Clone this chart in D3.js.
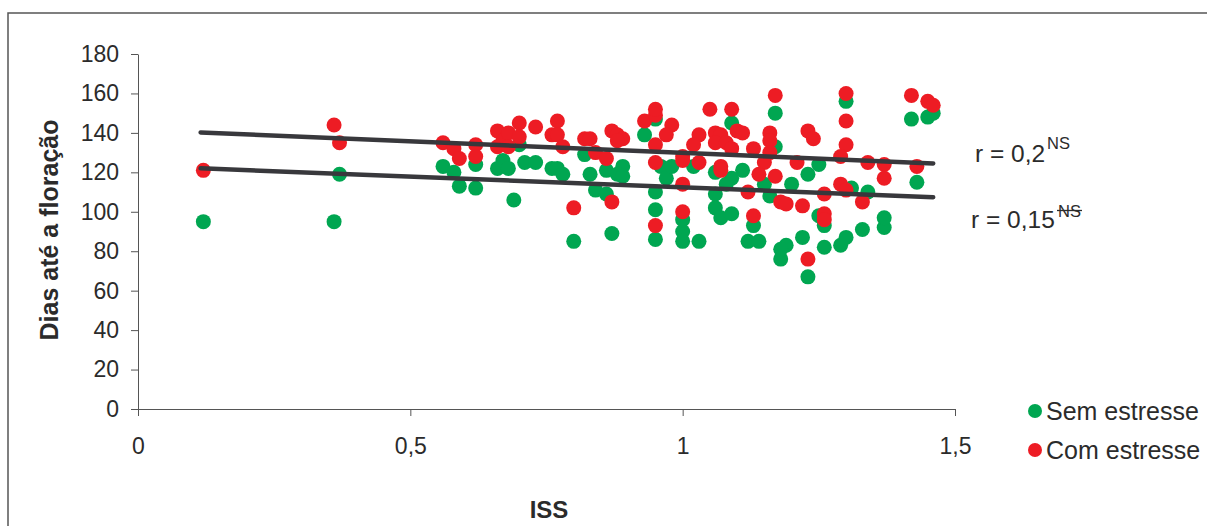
<!DOCTYPE html>
<html>
<head>
<meta charset="utf-8">
<script src="https://cdn.jsdelivr.net/npm/d3@7"></script>
<style>
	body { margin: 0; background: #fff; }
	text { font-family: "Liberation Sans", Arial, sans-serif; fill: #2b2b2b; }
</style>
</head>
<body>
<div id="chart"></div>
<script>
// ISS x dias até a floração
const semEstresse = [
	[0.12, 95], [0.36, 95], [0.37, 119],
	[0.56, 123], [0.58, 120], [0.59, 113], [0.62, 124], [0.62, 112], [0.66, 122], [0.67, 126], [0.68, 122],
	[0.70, 134], [0.71, 125], [0.73, 125], [0.69, 106],
	[0.76, 122], [0.77, 122], [0.78, 119], [0.82, 129], [0.83, 119], [0.84, 111], [0.86, 109], [0.86, 121],
	[0.89, 123], [0.88, 119], [0.89, 118], [0.80, 85], [0.87, 89],
	[0.93, 139], [0.95, 147], [0.96, 123], [0.97, 117], [0.98, 123], [0.95, 110], [0.95, 101], [0.95, 86],
	[1.00, 90], [1.00, 85], [1.03, 85],
	[1.09, 145], [1.17, 150], [1.17, 133], [1.06, 120], [1.11, 121], [1.09, 117], [1.08, 114], [1.15, 114],
	[1.16, 108], [1.06, 109], [1.06, 102], [1.07, 97], [1.09, 99], [1.13, 93], [1.12, 85], [1.14, 85],
	[1.00, 96], [1.02, 123], [1.20, 114], [1.23, 119], [1.25, 98],
	[1.19, 83], [1.18, 76], [1.22, 87], [1.26, 82], [1.29, 83], [1.30, 87], [1.33, 91], [1.37, 92], [1.37, 97],
	[1.23, 67], [1.30, 156], [1.42, 147], [1.45, 148], [1.46, 150], [1.43, 115], [1.31, 112], [1.34, 110],
	[1.26, 93], [1.25, 124], [1.18, 81]
];

const comEstresse = [
	[0.12, 121], [0.36, 144], [0.37, 135],
	[0.56, 135], [0.58, 132], [0.59, 127], [0.62, 134], [0.62, 128], [0.66, 141], [0.66, 133], [0.67, 136],
	[0.68, 140], [0.70, 145], [0.73, 143], [0.70, 138], [0.68, 133],
	[0.77, 146], [0.76, 139], [0.77, 139], [0.78, 133], [0.82, 137], [0.83, 137], [0.84, 130], [0.86, 127],
	[0.87, 141], [0.88, 139], [0.89, 137], [0.88, 136], [0.87, 105], [0.80, 102],
	[0.93, 146], [0.95, 149], [0.95, 152], [0.98, 144], [0.97, 139], [0.95, 134], [0.95, 125], [0.95, 93], [1.00, 128],
	[1.05, 152], [1.09, 152], [1.17, 159], [1.03, 139], [1.02, 134], [1.06, 140], [1.07, 139], [1.06, 135],
	[1.08, 135], [1.09, 132], [1.10, 141], [1.11, 140], [1.13, 132], [1.16, 140], [1.16, 136], [1.16, 130],
	[1.15, 125], [1.03, 125], [1.00, 126], [1.07, 123], [1.07, 121], [1.14, 119], [1.17, 118], [1.12, 110],
	[1.18, 105], [1.19, 104], [1.22, 103], [1.13, 98], [1.00, 114], [1.00, 100], [1.21, 125], [1.23, 141],
	[1.24, 137], [1.23, 76],
	[1.30, 160], [1.30, 146], [1.30, 134], [1.29, 128], [1.34, 125], [1.37, 124], [1.37, 117], [1.42, 159],
	[1.45, 156], [1.46, 154], [1.43, 123], [1.29, 114], [1.30, 111], [1.33, 105], [1.26, 109], [1.26, 99], [1.26, 96]
];

// linhas de tendência: [intercepto, inclinação]
const trendCom = [141.6, -11.7];
const trendSem = [123.3, -10.9];
const trendRange = [0.115, 1.46];

const xTicks = [0, 0.5, 1, 1.5];
const xTickLabels = ["0", "0,5", "1", "1,5"];
const yTicks = [0, 20, 40, 60, 80, 100, 120, 140, 160, 180];

const width = 1207, height = 526;
const verde = "#00a651", vermelho = "#ed1c24";

const svg = d3.select("#chart").append("svg")
	.attr("width", width)
	.attr("height", height);

// moldura
svg.append("rect")
	.attr("x", 8).attr("y", 13)
	.attr("width", 1210).attr("height", 530)
	.attr("fill", "none")
	.attr("stroke", "#555")
	.attr("stroke-width", 1.5);

let x = d3.scaleLinear().domain([0, 1.5]).range([138, 955]);
let y = d3.scaleLinear().domain([0, 180]).range([409, 54]);

let yAxis = d3.axisLeft(y).tickValues(yTicks).tickSize(7).tickPadding(12).tickSizeOuter(0);
let gy = svg.append("g")
	.attr("transform", "translate(138,0)")
	.call(yAxis);

let xAxis = d3.axisBottom(x).tickValues(xTicks).tickSize(7).tickPadding(22).tickSizeOuter(0)
	.tickFormat((d, i) => xTickLabels[i]);
let gx = svg.append("g")
	.attr("transform", "translate(0,409)")
	.call(xAxis);

[gx, gy].forEach(g => {
	g.select(".domain").attr("stroke", "#555");
	g.selectAll(".tick line").attr("stroke", "#555");
	g.selectAll(".tick text")
		.style("font-family", "Liberation Sans, Arial, sans-serif")
		.style("font-size", "23px")
		.attr("fill", "#2b2b2b");
});

svg.append("text")
	.attr("transform", "translate(58,230) rotate(-90)")
	.attr("text-anchor", "middle")
	.style("font-size", "25px")
	.style("font-weight", "bold")
	.text("Dias até a floração");

svg.append("text")
	.attr("x", 549).attr("y", 518)
	.attr("text-anchor", "middle")
	.style("font-size", "24px")
	.style("font-weight", "bold")
	.text("ISS");

// pontos
svg.append("g").selectAll("circle")
	.data(semEstresse)
	.enter().append("circle")
	.attr("cx", d => x(d[0]))
	.attr("cy", d => y(d[1]))
	.attr("r", 7.5)
	.attr("fill", verde);

svg.append("g").selectAll("circle")
	.data(comEstresse)
	.enter().append("circle")
	.attr("cx", d => x(d[0]))
	.attr("cy", d => y(d[1]))
	.attr("r", 7.5)
	.attr("fill", vermelho);

// tendências
let line = d3.line().x(d => x(d[0])).y(d => y(d[1]));
[trendCom, trendSem].forEach(t => {
	let pts = trendRange.map(v => [v, t[0] + t[1] * v]);
	svg.append("path")
		.attr("d", line(pts))
		.attr("fill", "none")
		.attr("stroke", "#38383c")
		.attr("stroke-width", 4.5)
		.attr("stroke-linecap", "round");
});

// r
svg.append("text").attr("x", 975).attr("y", 162).style("font-size", "24.5px").text("r = 0,2");
svg.append("text").attr("x", 1047).attr("y", 149).style("font-size", "16.5px").text("NS");
svg.append("text").attr("x", 971).attr("y", 228).style("font-size", "24.5px").text("r = 0,15");
svg.append("text").attr("x", 1058).attr("y", 217).style("font-size", "16.5px").text("NS");
svg.append("line")
	.attr("x1", 1057).attr("x2", 1082)
	.attr("y1", 210.5).attr("y2", 210.5)
	.attr("stroke", "#2b2b2b").attr("stroke-width", 1.3);

// legenda
const legenda = [["Sem estresse", verde], ["Com estresse", vermelho]];
let lg = svg.append("g").selectAll("g")
	.data(legenda)
	.enter().append("g")
	.attr("transform", (d, i) => "translate(1035," + (411 + i * 39) + ")");
lg.append("circle").attr("r", 7).attr("fill", d => d[1]);
lg.append("text")
	.attr("x", 11).attr("y", 8.5)
	.style("font-size", "25px")
	.text(d => d[0]);
</script>
</body>
</html>
